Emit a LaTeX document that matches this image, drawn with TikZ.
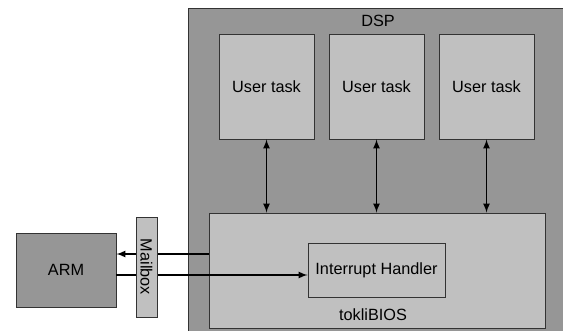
\documentclass[tikz,border=0pt]{standalone}
\usepackage{fontspec}
\setmainfont{Liberation Sans}
\usepackage{tikz}
\usetikzlibrary{calc,arrows}

\newlength\px
\setlength\px{0.75pt}
\definecolor{darkbox}{RGB}{150,150,150}
\definecolor{lightbox}{RGB}{192,192,192}

\begin{document}
\begin{tikzpicture}[x=0.75pt,y=-0.75pt,>=latex,
            font=\fontsize{12.2}{14}\selectfont,
            blk/.style={draw=black!80,line width=0.7pt,inner sep=0pt},
            darkblk/.style={blk,fill=darkbox},
            lightblk/.style={blk,fill=lightbox},
            link/.style={line width=1.3pt}]
            \useasboundingbox (0,0) rectangle (563,331);

            % DSP frame
            \node[darkblk,anchor=north west,minimum width=385\px,minimum height=330\px] (dsp) at (188,8){};
            \node (dsplabel) at (378,21){DSP};

            % user tasks
            \node[lightblk,minimum width=95\px,minimum height=105\px] (task1) at (266.5,86.5){User task};
            \node[lightblk,minimum width=95\px,minimum height=105\px] (task2) at (376.5,86.5){User task};
            \node[lightblk,minimum width=95\px,minimum height=105\px] (task3) at (486.5,86.5){User task};

            % kernel
            \node[lightblk,minimum width=336\px,minimum height=115\px] (bios) at (377,270.5){};
            \node (bioslabel) at (373,315){tokliBIOS};
            \node[lightblk,minimum width=137\px,minimum height=54\px] (irq) at (376.5,270){Interrupt Handler};

            % ARM side
            \node[darkblk,minimum width=100\px,minimum height=74\px] (arm) at (66,270){ARM};

            \draw[link,<->] (task1.south) -- (task1.south |- bios.north);
            \draw[link,<->] (task2.south) -- (task2.south |- bios.north);
            \draw[link,<->] (task3.south) -- (task3.south |- bios.north);

            \coordinate (out) at ([yshift=16.5\px]bios.west);
            \coordinate (in) at ([yshift=-5\px]arm.east);
            \draw[link,->] (out) -- (arm.east |- out);
            \draw[link,->] (in) -- (irq.west |- in);

            \node[lightblk,rotate=-90,minimum width=100\px,minimum height=21\px] (mbox) at (146.5,267){Mailbox};
\end{tikzpicture}
\end{document}
